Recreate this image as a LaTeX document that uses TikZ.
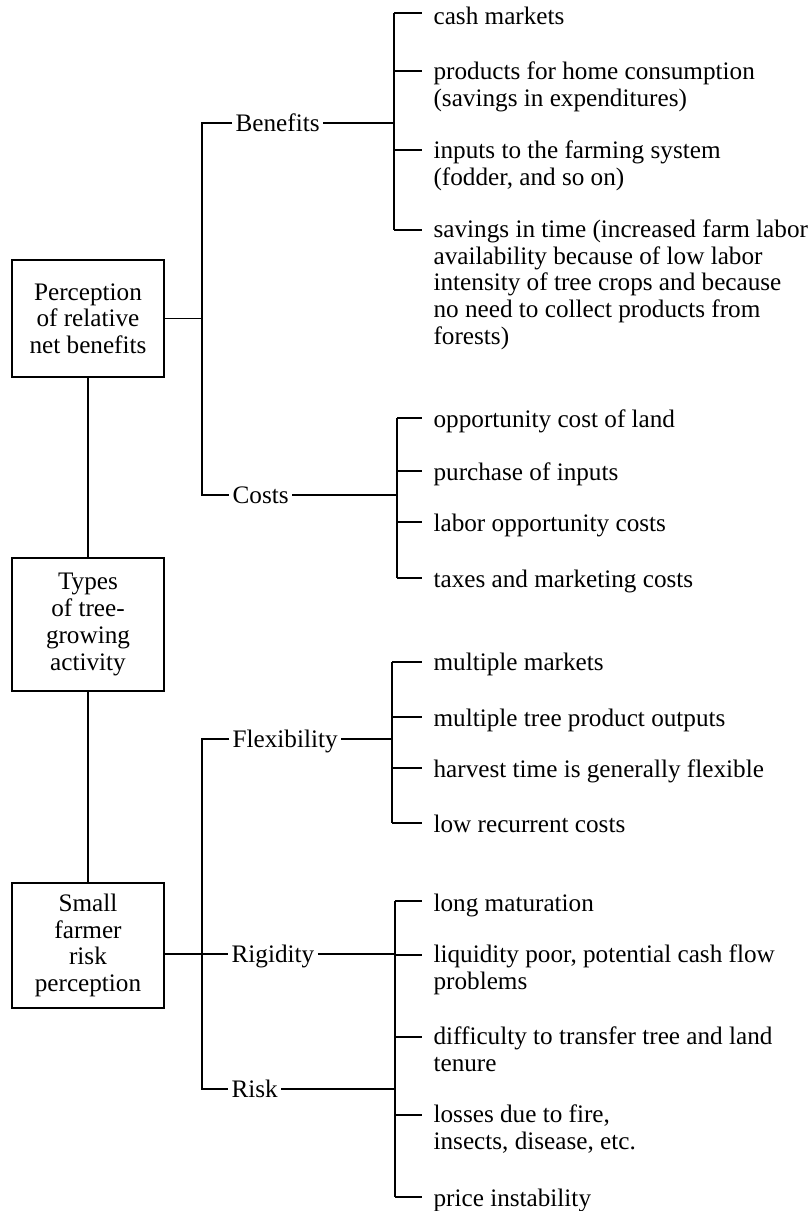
\documentclass[tikz,border=0pt]{standalone}
\usepackage{fontspec}
\setmainfont{Liberation Serif}

\tikzset{
    box/.style={draw, align=center, minimum width=76pt, inner sep=2pt},
    head/.style={anchor=west, inner xsep=1.5pt, inner ysep=0pt, text depth=0pt},
    leaf/.style={anchor=north west, align=left, inner xsep=5.5pt, inner ysep=0pt,
        execute at begin node={\rule{0pt}{10pt}}}
}

\begin{document}
\begin{tikzpicture}[x=0.5pt, y=-0.5pt, line width=0.6pt,
        font=\fontsize{12.6}{13.35}\selectfont]
            \useasboundingbox (0,0) rectangle (810,1211);

            % left column
            \node[box, minimum height=58.5pt] (percep) at (88,318.5) {Perception\\of relative\\net benefits};
            \node[box, minimum height=66.5pt] (types) at (88,624.5) {Types\\of tree-\\growing\\activity};
            \node[box, minimum height=62.5pt] (small) at (88,945.5) {Small\\farmer\\risk\\perception};

            % middle column
            \node[head] (benefits) at (232,123) {Benefits};
            \node[head] (costs) at (229,495) {Costs};
            \node[head] (flex) at (229,739) {Flexibility};
            \node[head] (rigid) at (228,954) {Rigidity};
            \node[head] (risk) at (228,1089) {Risk};

            \coordinate (t1) at (202,123);
            \coordinate (t2) at (202,495);
            \coordinate (t3) at (202,739);
            \coordinate (t4) at (202,1089);

            % bracket points
            \coordinate (bb1) at (394,13);
            \coordinate (bb2) at (394,71);
            \coordinate (bb3) at (394,150);
            \coordinate (bb4) at (394,230);

            \coordinate (bc1) at (397,418);
            \coordinate (bc2) at (397,471);
            \coordinate (bc3) at (397,522);
            \coordinate (bc4) at (397,578);

            \coordinate (bf1) at (392,662);
            \coordinate (bf2) at (392,717);
            \coordinate (bf3) at (392,768);
            \coordinate (bf4) at (392,823);

            \coordinate (br1) at (395,901);
            \coordinate (br2) at (395,955);
            \coordinate (br3) at (395,1037);
            \coordinate (br4) at (395,1115);
            \coordinate (br5) at (395,1197);

            % right column (top of first line = tick - 10)
            \node[leaf] (cash) at (422,4) {cash markets};
            \node[leaf] (home) at (422,61) {products for home consumption\\(savings in expenditures)};
            \node[leaf] (inputs) at (422,140) {inputs to the farming system\\(fodder, and so on)};
            \node[leaf] (time) at (422,219) {savings in time (increased farm labor\\availability because of low labor\\intensity of tree crops and because\\no need to collect products from\\forests)};

            \node[leaf] (land) at (422,407) {opportunity cost of land};
            \node[leaf] (purchase) at (422,460) {purchase of inputs};
            \node[leaf] (labor) at (422,511) {labor opportunity costs};
            \node[leaf] (taxes) at (422,567) {taxes and marketing costs};

            \node[leaf] (markets) at (422,650) {multiple markets};
            \node[leaf] (outputs) at (422,706) {multiple tree product outputs};
            \node[leaf] (harvest) at (422,757) {harvest time is generally flexible};
            \node[leaf] (recurrent) at (422,812) {low recurrent costs};

            \node[leaf] (maturation) at (422,891) {long maturation};
            \node[leaf] (liquidity) at (422,944) {liquidity poor, potential cash flow\\problems};
            \node[leaf] (tenure) at (422,1026) {difficulty to transfer tree and land\\tenure};
            \node[leaf] (losses) at (422,1104) {losses due to fire,\\insects, disease, etc.};
            \node[leaf] (price) at (422,1186) {price instability};

            % connectors
            \draw (percep.south) -- (types.north);
            \draw (types.south) -- (small.north);

            \draw (percep.east) -- (percep.east -| t1);
            \draw (benefits.west) -- (t1) -- (t2) -- (costs.west);
            \draw (small.east |- rigid.west) -- (rigid.west);
            \draw (flex.west) -- (t3) -- (t4) -- (risk.west);

            \draw (benefits.east) -- (benefits.east -| bb1);
            \draw (costs.east) -- (costs.east -| bc1);
            \draw (flex.east) -- (flex.east -| bf1);
            \draw (rigid.east) -- (rigid.east -| br1);
            \draw (risk.east) -- (risk.east -| br1);

            \draw (bb1) -- (bb4);
            \draw (bc1) -- (bc4);
            \draw (bf1) -- (bf4);
            \draw (br1) -- (br5);

            \draw (bb1) -- (bb1 -| cash.west);
            \draw (bb2) -- (bb2 -| home.west);
            \draw (bb3) -- (bb3 -| inputs.west);
            \draw (bb4) -- (bb4 -| time.west);
            \draw (bc1) -- (bc1 -| land.west);
            \draw (bc2) -- (bc2 -| purchase.west);
            \draw (bc3) -- (bc3 -| labor.west);
            \draw (bc4) -- (bc4 -| taxes.west);
            \draw (bf1) -- (bf1 -| markets.west);
            \draw (bf2) -- (bf2 -| outputs.west);
            \draw (bf3) -- (bf3 -| harvest.west);
            \draw (bf4) -- (bf4 -| recurrent.west);
            \draw (br1) -- (br1 -| maturation.west);
            \draw (br2) -- (br2 -| liquidity.west);
            \draw (br3) -- (br3 -| tenure.west);
            \draw (br4) -- (br4 -| losses.west);
            \draw (br5) -- (br5 -| price.west);
        \end{tikzpicture}
\end{document}
